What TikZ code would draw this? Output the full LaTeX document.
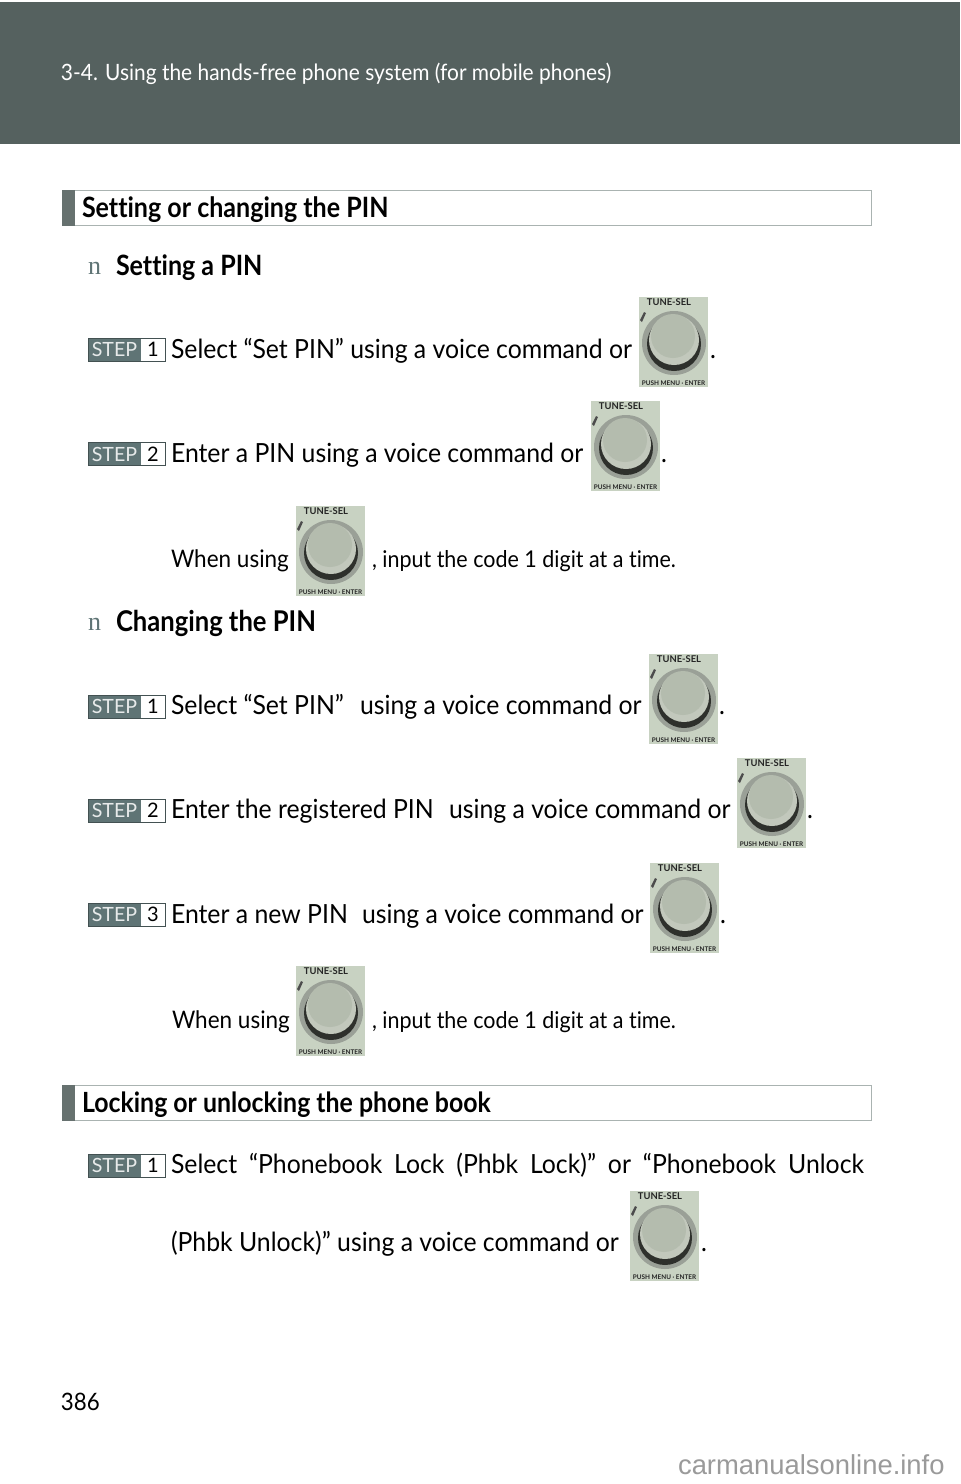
\documentclass[tikz,border=0pt]{standalone}
\usepackage{fontspec}
\setmainfont[Ligatures=NoCommon]{Lato}
\newfontfamily\bodyf[FakeStretch=0.939,Ligatures=NoCommon]{Lato}
\newfontfamily\smallf[FakeStretch=0.93,Ligatures=NoCommon]{Lato}
\newfontfamily\headf[FakeStretch=0.895,Ligatures=NoCommon]{Lato}
\newfontfamily\hdrf[FakeStretch=0.93,Ligatures=NoCommon]{Lato}
\newfontfamily\serifn{Liberation Serif}
\newfontfamily\wmf{Liberation Sans}
\definecolor{band}{HTML}{55615F}
\definecolor{stepc}{HTML}{5F7475}
\definecolor{barline}{HTML}{AAB3B1}
\definecolor{knobbg}{HTML}{C8D2C2}
\definecolor{knobdark}{HTML}{2E302C}
\definecolor{knobmid}{HTML}{9AA097}
\definecolor{knobring}{HTML}{C2C8BC}
\definecolor{knobtop}{HTML}{B4BCAE}
\definecolor{wm}{HTML}{9A9A9A}
\tikzset{
  x=0.5pt,y=-0.5pt,
  txt/.style={anchor=base west,inner sep=0pt,outer sep=0pt,text=black},
  body/.style={txt,font=\bodyf\fontsize{13.2}{15}\selectfont},
  small/.style={txt,font=\smallf\fontsize{11.55}{14}\selectfont},
  smalla/.style={txt,font=\smallf\fontsize{12.1}{14}\selectfont},
  head/.style={txt,font=\headf\fontsize{14}{16}\selectfont\bfseries},
  bullet/.style={txt,text=stepc,font=\serifn\fontsize{13}{15}\selectfont},
  knoblabel/.style={inner sep=0pt,text=black!85},
  pics/knob/.style={code={
    \begin{scope}
    \clip (0,0) rectangle (69,90);
    \fill[knobbg] (0,0) rectangle (69,90);
    \fill[black!70] (1,23) -- (5,15) -- (7,16) -- (3,25) -- cycle;
    \fill[knobmid] (35,46) circle[radius=32];
    \fill[knobdark] (35,47) circle[radius=27];
    \fill[knobring] (35,43) circle[radius=25];
    \fill[knobtop] (34,39) circle[radius=22];
    \end{scope}
    \node[knoblabel,font=\bfseries\fontsize{4.7}{5}\selectfont] (-t) at (30,5.5) {TUNE-SEL};
    \node[knoblabel,font=\bfseries\fontsize{3.2}{4}\selectfont] (-b) at (34.5,86) {PUSH MENU · ENTER};
  }},
  pics/stepbadge/.style={code={
    \fill[white] (0,0) rectangle (77,23);
    \fill[stepc] (0,0) rectangle (53,23);
    \draw[stepc!70!black,line width=0.5pt] (0,0) rectangle (77,23);
    \node[inner sep=0pt,text=white!85!stepc,font=\fontsize{9.8}{12}\selectfont] (-s) at (26.5,11.5) {STEP};
    \node[inner sep=0pt,font=\fontsize{10}{12}\selectfont] (-n) at (65,11.5) {#1};
  }}
}
\begin{document}
\begin{tikzpicture}
\useasboundingbox (0,0) rectangle (960,1484);
\fill[white] (0,0) rectangle (960,1484);
\fill[band] (0,2) rectangle (960,144);
\node[txt,text=white,font=\hdrf\fontsize{11.25}{13}\selectfont] (hdr) at (61,80) {3-4. Using the hands-free phone system (for mobile phones)};
% section bars
\draw[barline,line width=0.5pt] (62,190.5) rectangle (871,225);
\fill[band!90!white] (62,190) rectangle (75,225.5);
\node[head] (sec1) at (82,217) {Setting or changing the PIN};
\draw[barline,line width=0.5pt] (62,1085.5) rectangle (871,1120);
\fill[band!90!white] (62,1085) rectangle (75,1120.5);
\node[head,font=\headf\fontsize{13.9}{16}\selectfont\bfseries] (sec2) at (82,1112) {Locking or unlocking the phone book};
% sub heads
\node[bullet] (b1) at (88,274) {n};
\node[head] (s1) at (116,275) {Setting a PIN};
\node[bullet] (b2) at (88,630) {n};
\node[head,font=\headf\fontsize{14.3}{16}\selectfont\bfseries] (s2) at (116,631) {Changing the PIN};
% steps
\pic (st1) at (88,338) {stepbadge=1};
\node[body] (t1) at (171,358) {Select “Set PIN” using a voice command or};
\pic (k1) at (639,297) {knob};
\node[body] (d1) at (710,358) {.};
\pic (st2) at (88,442.5) {stepbadge=2};
\node[body] (t2) at (171,462) {Enter a PIN using a voice command or};
\pic (k2) at (591,401) {knob};
\node[body] (d2) at (661,462) {.};
\node[smalla] (n1a) at (171,567) {When using};
\pic (k3) at (296,506) {knob};
\node[small] (n1b) at (372,567) {, input the code 1 digit at a time.};
\pic (st3) at (88,695) {stepbadge=1};
\node[body] (t3) at (171,714) {Select “Set PIN”};
\node[body] (t3b) at (360,714) {using a voice command or};
\pic (k4) at (649,654) {knob};
\node[body] (d3) at (719,714) {.};
\pic (st4) at (88,799) {stepbadge=2};
\node[body] (t4) at (171,818) {Enter the registered PIN};
\node[body] (t4b) at (449,818) {using a voice command or};
\pic (k5) at (737,758) {knob};
\node[body] (d4) at (807,818) {.};
\pic (st5) at (88,903) {stepbadge=3};
\node[body] (t5) at (171,923) {Enter a new PIN};
\node[body] (t5b) at (362,923) {using a voice command or};
\pic (k6) at (650,863) {knob};
\node[body] (d5) at (720,923) {.};
\node[smalla] (n2a) at (172,1028) {When using};
\pic (k7) at (296,966) {knob};
\node[small] (n2b) at (372,1028) {, input the code 1 digit at a time.};
\pic (st6) at (88,1154) {stepbadge=1};
\node[body] (t6) at (171,1173) {\makebox[346.5pt][s]{Select\hfill “Phonebook\hfill Lock\hfill (Phbk\hfill Lock)”\hfill or\hfill “Phonebook\hfill Unlock}};
\node[body] (t7) at (171,1251) {(Phbk Unlock)” using a voice command or};
\pic (k8) at (630,1191) {knob};
\node[body] (d6) at (701,1251) {.};
\node[txt,font=\smallf\fontsize{12}{14}\selectfont] (pg) at (61,1410) {386};
\node[anchor=base east,inner sep=0pt,text=wm,font=\wmf\fontsize{13.7}{15}\selectfont] (wmk) at (945,1474) {carmanualsonline.info};
\end{tikzpicture}
\end{document}
